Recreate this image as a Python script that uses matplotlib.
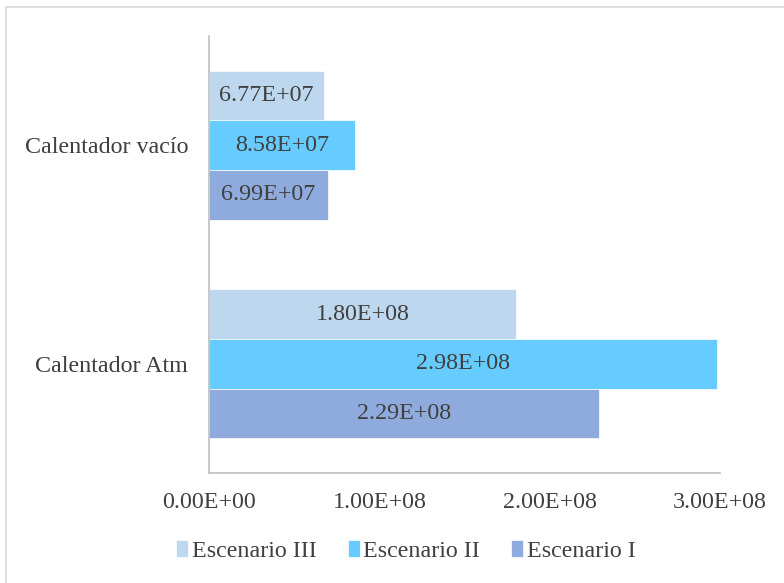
import numpy as np
import matplotlib.pyplot as plt
from matplotlib.patches import Rectangle

categories = ['Calentador Atm', 'Calentador vacío']
series = ['Escenario III', 'Escenario II', 'Escenario I']
esc1 = [2.29e8, 6.99e7]
esc2 = [2.98e8, 8.58e7]
esc3 = [1.80e8, 6.77e7]
xticks = [0, 1e8, 2e8, 3e8]
xtick_labels = ['0.00E+00', '1.00E+08', '2.00E+08', '3.00E+08']

colors = {'Escenario III': '#BDD7EE', 'Escenario II': '#66CBFF', 'Escenario I': '#8FAADC'}
values = {'Escenario III': esc3, 'Escenario II': esc2, 'Escenario I': esc1}
offsets = {'Escenario III': 1, 'Escenario II': 0, 'Escenario I': -1}

plt.rcParams['font.family'] = ['Liberation Serif', 'DejaVu Serif']
txt = '#404040'
axis_col = '#BFBFBF'
fs = 17.3

fig = plt.figure(figsize=[7.84, 5.83], dpi=100)
fig.patches.append(Rectangle((6 / 784, -0.01), 1.02, 1 - 7 / 583 + 0.01,
                             transform=fig.transFigure, fill=False,
                             edgecolor='#D9D9D9', linewidth=1.2))
ax = fig.add_axes([209 / 784, 110 / 583, 511 / 784, 437 / 583])

h = 0.227
y = np.arange(len(categories))
handles = {}
for s in series:
    pos = y + offsets[s] * h
    bars = ax.barh(pos, values[s], height=h, color=colors[s], edgecolor='white',
                   linewidth=0.5, label=s)
    handles[s] = bars
    for p, v in zip(pos, values[s]):
        ax.text(v / 2, p, '%.2E' % v, ha='center', va='center',
                fontsize=fs, color=txt)

ax.set_xlim(0, 3e8)
ax.set_ylim(-0.5, 1.5)
ax.set_xticks(xticks)
ax.set_xticklabels(xtick_labels, fontsize=fs, color=txt)
ax.set_yticks(y)
ax.set_yticklabels(categories, fontsize=fs, color=txt)
ax.tick_params(length=0, pad=14)
ax.tick_params(axis='y', pad=15)
for sp in ['top', 'right']:
    ax.spines[sp].set_visible(False)
for sp in ['left', 'bottom']:
    ax.spines[sp].set_color(axis_col)
    ax.spines[sp].set_linewidth(1.2)

leg = fig.legend([handles[s] for s in series], series, loc='center',
                 bbox_to_anchor=(406 / 784, 1 - 551 / 583), ncol=3, frameon=False,
                 fontsize=fs, handlelength=0.5, handleheight=0.7,
                 handletextpad=0.15, columnspacing=1.3)
for t in leg.get_texts():
    t.set_color(txt)

fig.savefig('out.png', dpi=100)
